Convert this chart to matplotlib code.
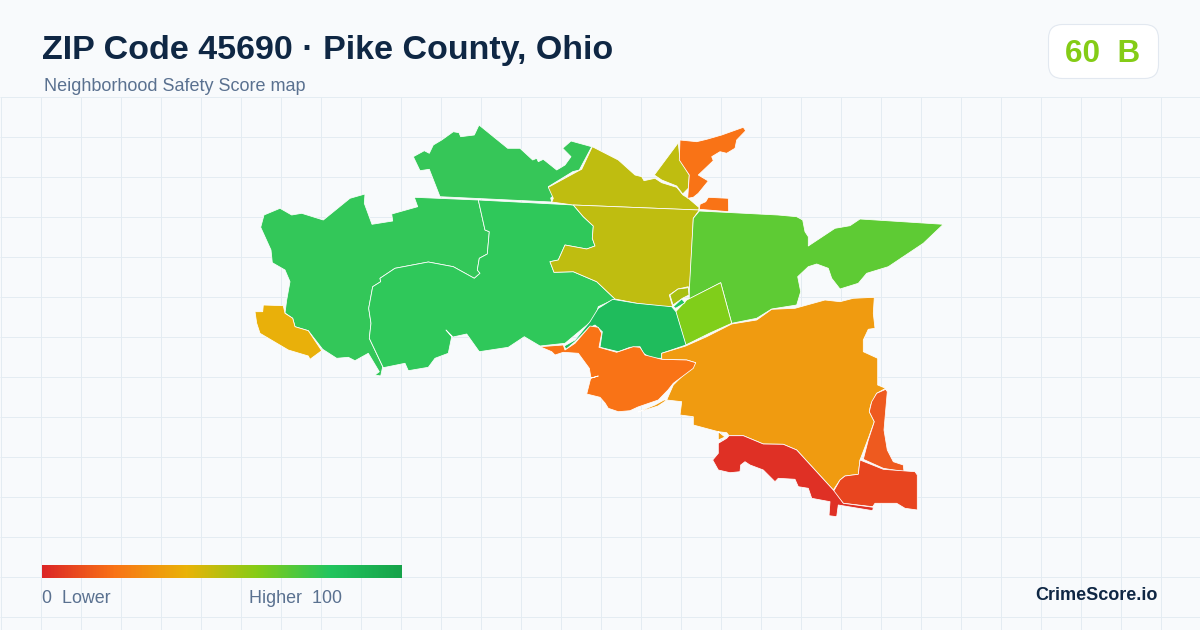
import matplotlib
matplotlib.use("Agg")
import matplotlib.pyplot as plt
import numpy as np
from matplotlib.colors import LinearSegmentedColormap
from matplotlib.patches import Polygon, FancyBboxPatch

plt.rcParams['font.family'] = ['Liberation Sans', 'DejaVu Sans']

TITLE = "ZIP Code 45690 · Pike County, Ohio"
SUBTITLE = "Neighborhood Safety Score map"
SCORE_TEXT = "60  B"
BRAND = "CrimeScore.io"
LEGEND_LOW = "0  Lower"
LEGEND_HIGH = "Higher  100"
GRADIENT_COLORS = ["#dc2626", "#f97316", "#eab308", "#84cc16", "#22c55e", "#16a34a"]

# Region outlines (map units follow the canvas)
north_green = [(413.3,156.7),(424.3,150.7),(429.3,153.3),(433.3,145),(441.7,140),(453.3,131.7),(459,132.7),(460.7,136.7),(474.3,135),(479,125),(507.7,148.3),(520,148.3),(532.7,160),(536.7,158.3),(538.3,161.7),(543.3,159.3),(556.7,170),(565,165),(571,156.7),(562.7,148.3),(571,141),(591.7,146.7),(579.3,170),(572.7,171.7),(548.3,186.7),(556.7,193),(550.7,198),(551.7,202),(440,196.7),(429.3,169.3),(420,170.7)]
west_green = [(414.3,197.3),(478.3,200),(485,230),(489.3,231.7),(487.3,254),(479.3,258.3),(477.3,270),(480,273.3),(474.3,278.3),(453.3,266.7),(428.3,262),(395,268.3),(380,278.3),(380.7,281.7),(372.7,286.7),(368.7,308.3),(371,323.3),(369.3,338.3),(382.7,366.7),(380.7,376),(375,375),(379.3,371.7),(368.3,353.3),(355,360.7),(348.3,357.3),(336.7,358.3),(322.7,349.3),(308.3,330.7),(295,326.7),(292.7,318.3),(285,313),(286.7,300),(290,281.7),(285,270),(272.3,262.7),(271,250),(260.7,227.3),(264,215),(280,208.3),(291.7,215),(301.7,213.3),(323.3,220),(350,198.3),(365,194),(364.3,203.3),(372,224.3),(392.7,221),(391.7,214),(417.7,206.7)]
central_green = [(478.3,200),(573.3,205),(583.3,216.7),(593.3,226),(592.3,238.3),(595,246),(586.7,249),(565,245),(558.3,260),(550,261.7),(554,272.3),(573.3,271.7),(596.7,281.7),(615,299),(598.3,306.7),(595,318.3),(565,343.3),(540,346),(524.3,336.7),(508.3,347.3),(479.3,351.7),(466.7,334),(453,337),(446,330),(451.7,336.7),(448.3,353.3),(435,358.3),(428.3,367.3),(408.3,370.7),(405,363.3),(383.3,367.7),(369.3,338.3),(371,323.3),(368.7,308.3),(372.7,286.7),(380.7,281.7),(380,278.3),(395,268.3),(428.3,262),(453.3,266.7),(474.3,278.3),(480,273.3),(477.3,270),(479.3,258.3),(487.3,254),(489.3,231.7),(485,230)]
west_amber = [(255,311.7),(262.7,311.7),(263.3,305),(283.3,305.7),(285,313.3),(292.7,318.3),(295,326.7),(308.3,330.7),(321.7,350.7),(310,359.3),(308.3,356),(288.3,350),(260,333.3),(256.7,323.3)]
north_olive = [(592.3,146.7),(618.3,160),(635,175),(641.7,176.7),(644,180.7),(655,178.3),(661.7,182.7),(676.7,187.3),(683,195),(688.3,198.3),(699.3,207.7),(698.3,210),(573.3,205),(551.7,202),(553.3,198.3),(548.3,187.3),(578.3,171),(581.7,169.3)]
ne_olive = [(678.3,142.7),(654.3,175),(661.7,180),(676.7,186),(682.7,194),(688.3,188.3),(689.3,175),(680,160)]
ne_orange = [(680,140),(696.7,141.7),(706.7,139.3),(721.7,135),(743.3,127.3),(745.7,130.7),(736.7,140),(735,148.3),(726.7,153.3),(720,151.7),(711.7,156.7),(713.3,160.7),(698.3,175),(708.3,181),(698.3,193.3),(693.3,197.3),(687.7,198.3),(689.3,175),(679.3,160)]
small_orange = [(700,204.3),(705.7,201.7),(708.3,197.3),(728.3,198.3),(728.7,211.7),(699.3,209.3)]
central_olive = [(573.3,205),(699.3,210),(693.3,218.3),(689.3,296.7),(688.3,286.7),(678,289),(669.3,295),(672.7,306.7),(665,306.7),(636.7,303.3),(615,299),(596.7,281.7),(573.3,271.7),(554,272.3),(550,261.7),(558.3,260),(565,245),(586.7,249),(595,246),(592.3,238.3),(593.3,226),(583.3,216.7)]
tiny_olive = [(688.3,287.7),(678,289),(670,295),(673,305),(683,298),(689,295)]
tiny_teal = [(673.3,306.7),(681.7,299),(685,302.7),(675.7,308.3)]
ne_green = [(699.3,211),(778,215),(796.7,216.7),(802.7,220),(805,231.7),(808.3,236.7),(808.3,246),(835,228.3),(850,225.7),(860,219),(943.3,224.3),(923.3,243.3),(888.3,266.7),(866.7,273.3),(858.3,283.3),(840,289),(831.7,278.3),(828.3,268.3),(816.7,264),(808.3,266.7),(797.7,276.7),(800.7,291.7),(796.7,305),(771.7,309),(756.7,318.3),(731.7,323.3),(720.7,282.7),(689.3,299),(689.3,290),(693.3,218.3)]
lime_square = [(720.7,282.7),(731.7,323.3),(710,333),(685.7,345),(675.7,311.7),(686.7,300)]
emerald = [(612.7,299.3),(636.7,303.3),(671.7,306.7),(676,311.7),(686,345),(661.7,353.3),(661.7,358.3),(651.7,358.3),(643.3,353.3),(640,346.7),(630,347.3),(618.3,351.7),(600,347.3),(602.3,331.7),(595,325),(588.3,328.3),(575,341.7),(566,349.3),(564.3,346),(575,340),(590,321.7),(598.3,308.3)]
mid_orange = [(540,346.7),(563.3,345),(565,350),(575,343.3),(590,326),(598.3,327.3),(601.7,333.3),(599,347.3),(616.7,352.3),(633.3,346.7),(640,347.3),(645,355),(661.7,359.3),(686.7,360),(695.7,362.7),(693.3,368.3),(673.3,383.3),(668,390),(658.3,400),(638,407),(630,410.7),(618.3,411.7),(608.3,408.3),(605,403),(600,397.3),(586.7,394),(590.7,378.3),(598.3,376),(591,378),(589.3,368.3),(578.3,353.3),(563.3,352.3),(555,355),(551.7,351.7)]
big_amber = [(661.7,353.3),(685.7,346),(706.7,336.7),(731.7,324),(756.7,320),(771.7,309.3),(795,308.3),(825,300),(840,301.7),(853.3,298.3),(874.3,297.3),(873.3,313.3),(875,328.3),(868.3,329.3),(863.3,340),(863.3,351.7),(877.7,358.3),(877.7,385),(885.7,388.3),(876.7,393.3),(870.7,405),(869.3,411.7),(874.3,421.7),(868.3,438.3),(860,460),(858.3,474.3),(845,476),(840,480),(833.3,490),(796.7,450),(783.3,444.3),(763.3,444),(743.3,435.7),(729,435.7),(726.7,432.7),(718.3,431.7),(718.3,440),(725,437),(718.3,431.7),(693.3,425),(693.3,416.7),(680,415),(681.7,401.7),(666.7,400),(673.3,385),(695.7,362.7),(686.7,360),(661.7,359.3)]
amber_sliver = [(638,412),(655,405),(664,400),(667,400),(658,406),(642,411)]
east_orange = [(885.7,389.3),(887.3,391.7),(884,430),(887.3,450),(893.3,461.7),(903.3,465),(904,471.7),(883.3,468.3),(863.3,459.3),(868.3,440),(874.3,421.7),(869.3,411.7),(871.7,401.7),(876.7,393.3)]
se_red = [(860,460),(883.3,469.3),(915,471.7),(917.3,475),(917.3,510),(905,508.3),(896.7,503.3),(875,503.3),(872.7,506.7),(843.3,503.3),(833.3,491.7),(840,480),(845,476),(858.3,474.3)]
south_red = [(729,435.7),(743.3,435.7),(763.3,444),(783.3,444.3),(796.7,450),(833.3,490),(843.3,503.3),(873.3,507.3),(872.7,510.7),(838.3,505),(836.7,516.7),(829,515.7),(830,501.7),(811.7,498.3),(808.3,488.3),(798.3,486.7),(795,479.3),(778.3,478.3),(775,481.7),(763.3,470),(750,465),(745,461.7),(740.7,465),(740,471.7),(730,472.7),(718.3,470),(712.7,460),(718.3,453.3),(718.3,443.3),(726.7,438.3)]

REGIONS = [north_green, west_green, central_green, west_amber, north_olive, ne_olive, ne_orange,
           small_orange, central_olive, tiny_olive, ne_green, lime_square, emerald, tiny_teal,
           big_amber, amber_sliver, mid_orange, east_orange, se_red, south_red]
REGION_COLORS = ["#36c658", "#33c759", "#2fc85a", "#e9b00a", "#bfbd10", "#bfbd10", "#f97316",
                 "#f97316", "#bfbd10", "#a8bf10", "#5ecb34", "#80ce1a", "#1fbc5c", "#22c55e",
                 "#f09b10", "#f09b10", "#f97316", "#ee5a1f", "#e8451f", "#df3025"]

BG = "#f8fafc"
GRID = "#e4ecf2"

fig = plt.figure(figsize=(12, 6.3), dpi=100, facecolor=BG)
ax = fig.add_axes([0, 0, 1, 1])
ax.set_xlim(0, 1200)
ax.set_ylim(630, 0)
ax.axis("off")

ax.vlines(np.arange(0.5, 1200, 40), 96.5, 630, color=GRID, lw=0.72, zorder=1)
ax.hlines(np.arange(96.5, 630, 40), 0, 1200, color=GRID, lw=0.72, zorder=1)

for pts, col in zip(REGIONS, REGION_COLORS):
    ax.add_patch(Polygon(pts, closed=True, facecolor=col, edgecolor="white",
                         lw=0.55, joinstyle="round", zorder=3))

ax.text(42, 50.5, TITLE, fontsize=24.45, fontweight="bold", color="#0f2744", va="center", ha="left", zorder=5)
ax.text(44, 86.5, SUBTITLE, fontsize=12.95, color="#5a7190", va="center", ha="left", zorder=5)

ax.add_patch(FancyBboxPatch((1048.5, 24.5), 110, 54, boxstyle="round,pad=0,rounding_size=14",
                            facecolor="white", edgecolor="#e2e8f0", lw=0.8, zorder=4))
ax.text(1103, 53.5, SCORE_TEXT, fontsize=22.6, fontweight="bold", color="#84cc16", va="center", ha="center", zorder=5)

cmap = LinearSegmentedColormap.from_list("safety", GRADIENT_COLORS)
ax.imshow(np.linspace(0, 1, 360).reshape(1, -1), cmap=cmap, extent=(42, 402, 578, 565),
          aspect="auto", zorder=4)
ax.set_xlim(0, 1200)
ax.set_ylim(630, 0)

ax.text(42, 598.5, LEGEND_LOW, fontsize=12.9, color="#5a7190", va="center", ha="left", zorder=5)
ax.text(249, 598.5, LEGEND_HIGH, fontsize=12.9, color="#5a7190", va="center", ha="left", zorder=5)
ax.text(1158, 595, BRAND, fontsize=13.0, fontweight="bold", color="#0f2744", va="center", ha="right", zorder=5)

fig.savefig("out.png", dpi=100, facecolor=BG)
